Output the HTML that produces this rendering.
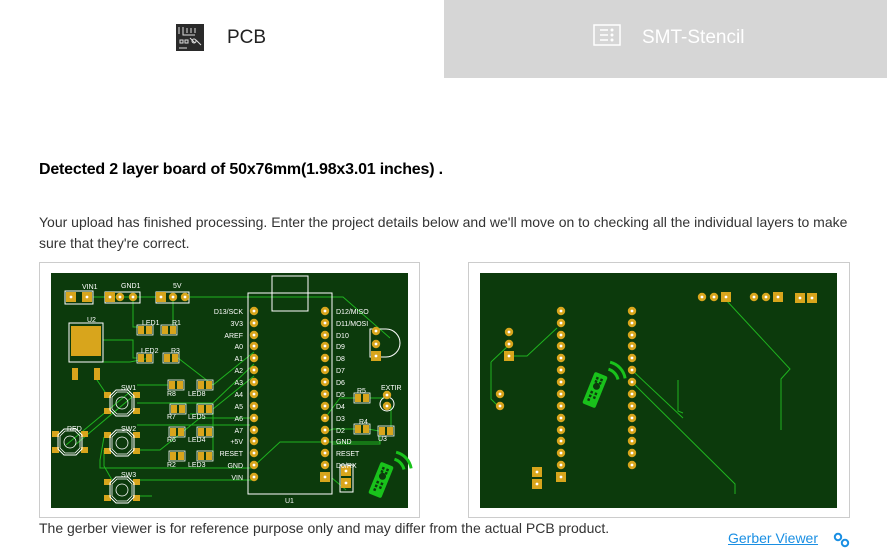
<!DOCTYPE html>
<html><head><meta charset="utf-8"><style>
html,body{margin:0;padding:0;background:#fff;}
body{width:887px;height:553px;position:relative;overflow:hidden;font-family:"Liberation Sans",Arial,sans-serif;color:#222;}
.tab2{position:absolute;left:444px;top:0;width:443px;height:78px;background:#d6d6d6;}
.t{position:absolute;white-space:nowrap;}
</style></head><body>
<div class="tab2"></div>
<div class="t" style="left:227px;top:27px;font-size:19px;color:#222;">PCB</div>
<div class="t" style="left:642px;top:27px;font-size:19px;color:#fff;">SMT-Stencil</div>
<div class="t" style="left:39px;top:161px;font-size:16px;font-weight:bold;color:#000;letter-spacing:-0.2px;">Detected 2 layer board of 50x76mm(1.98x3.01 inches) .</div>
<div class="t" style="left:39px;top:212px;font-size:14px;line-height:21px;color:#333;">Your upload has finished processing. Enter the project details below and we'll move on to checking all the individual layers to make<br>sure that they're correct.</div>
<div class="t" style="left:39px;top:520px;font-size:14px;color:#333;">The gerber viewer is for reference purpose only and may differ from the actual PCB product.</div>
<div class="t" style="left:728px;top:530px;font-size:14px;color:#1a8fe3;text-decoration:underline;">Gerber Viewer</div>
<svg width="887" height="553" style="position:absolute;left:0;top:0" viewBox="0 0 887 553">
<defs>
<g id="p"><circle r="4.2" fill="#d8a51c"/><circle r="1.4" fill="#fff"/></g>
<g id="sq"><rect x="-5" y="-5" width="10" height="10" fill="#d8a51c"/><circle r="1.4" fill="#fff"/></g>
<g id="sw"><rect x="-18" y="-11" width="7" height="6" fill="#d8a51c"/><rect x="11" y="-11" width="7" height="6" fill="#d8a51c"/><rect x="-18" y="5" width="7" height="6" fill="#d8a51c"/><rect x="11" y="5" width="7" height="6" fill="#d8a51c"/>
<polygon points="-6,-13 6,-13 12,-7 12,7 6,13 -6,13 -12,7 -12,-7" fill="none" stroke="#fff" stroke-width="1"/>
<polygon points="-5,-11 5,-11 10,-6 10,6 5,11 -5,11 -10,6 -10,-6" fill="none" stroke="#fff" stroke-width="0.8"/>
<circle r="6" fill="none" stroke="#fff" stroke-width="0.8"/></g>
<g id="rs"><rect x="-8" y="-5" width="16" height="10" fill="none" stroke="#fff" stroke-width="0.8"/><rect x="-7" y="-4" width="6" height="8" fill="#d8a51c"/><rect x="1" y="-4" width="6" height="8" fill="#d8a51c"/></g>
<g id="rem"><rect x="-7" y="-17" width="14" height="34" rx="2" fill="#19c21b"/>
<circle cy="-4" r="3.5" fill="#0c3a0c"/>
<rect x="-3.5" y="-13" width="2.5" height="2.5" fill="#0c3a0c"/><rect x="1" y="-13" width="2.5" height="2.5" fill="#0c3a0c"/>
<rect x="-3.5" y="-9.5" width="2.5" height="2.5" fill="#0c3a0c"/><rect x="1" y="-9.5" width="2.5" height="2.5" fill="#0c3a0c"/>
<rect x="-3.5" y="2" width="2.5" height="2.5" fill="#0c3a0c"/><rect x="1" y="2" width="2.5" height="2.5" fill="#0c3a0c"/>
<rect x="-3.5" y="6" width="2.5" height="2.5" fill="#0c3a0c"/><rect x="1" y="6" width="2.5" height="2.5" fill="#0c3a0c"/>
<rect x="-3.5" y="10" width="2.5" height="2.5" fill="#0c3a0c"/>
<g transform="rotate(25)"><path d="M-6,-24 A14,14 0 0 1 8,-24" fill="none" stroke="#19c21b" stroke-width="3"/>
<path d="M-10,-30 A20,20 0 0 1 12,-30" fill="none" stroke="#19c21b" stroke-width="3"/></g></g>
</defs>
<!-- tab icons -->
<rect x="176" y="24" width="28" height="27" fill="#2a2a2a"/>
<path d="M179,27v7M183,27v8h12M187,28v5M191,28v5M195,28v5M180,40h3v3h-3zM185,40h3v3h-3zM190,38l5,5M196,40l5,5M179,48h8" stroke="#ddd" stroke-width="1" fill="none"/>
<circle cx="194" cy="41" r="2" fill="none" stroke="#ddd"/>
<rect x="594" y="25" width="26" height="20" fill="none" stroke="#fff" stroke-width="1.5"/>
<path d="M600,30h8M600,35h8M600,40h8" stroke="#fff" stroke-width="1.5"/>
<circle cx="612" cy="30" r="1.5" fill="#fff"/><circle cx="612" cy="35" r="1.5" fill="#fff"/><circle cx="612" cy="40" r="1.5" fill="#fff"/>
<!-- link icon -->
<circle cx="838" cy="537" r="3.2" fill="none" stroke="#1a8fe3" stroke-width="2"/><circle cx="845" cy="543" r="3.2" fill="none" stroke="#1a8fe3" stroke-width="2"/>
<!-- frames -->
<rect x="39.5" y="262.5" width="380" height="255" fill="#fff" stroke="#ccc"/>
<rect x="468.5" y="262.5" width="381" height="255" fill="#fff" stroke="#ccc"/>
<rect x="51" y="273" width="357" height="235" fill="#0c3a0c"/>
<rect x="480" y="273" width="357" height="235" fill="#0c3a0c"/>
<!-- LEFT traces -->
<g stroke="#1fb31f" stroke-width="1" fill="none">
<path d="M93,297H156M185,297H343L390,338"/>
<path d="M133,297V327H139"/><path d="M173,297V330"/>
<path d="M103,340H133V358H137"/>
<path d="M75,362H130L150,358"/>
<path d="M97,370V380L107,395"/><path d="M178,358L213,385"/>
<path d="M137,385H168M213,385L254,352"/>
<path d="M137,403H213L254,364"/><path d="M213,409L254,376"/>
<path d="M137,425H250"/>
<path d="M213,409V456"/><path d="M190,414H213"/>
<path d="M137,450H160L200,418H254"/>
<path d="M104,437L100,460V468H254"/>
<path d="M66,445L130,392"/><path d="M75,445L138,392"/>
<path d="M104,450V466L112,480"/>
<path d="M137,480H254"/><path d="M137,496H152"/>
<path d="M254,466L280,442H325H380"/>
<path d="M325,418L340,398H355"/><path d="M325,432L333,429H355"/>
<path d="M370,398H387"/><path d="M391,406V431"/><path d="M368,429L379,431"/>
<path d="M332,444H380V431"/><path d="M332,478L346,490"/>
</g>
<!-- LEFT silk -->
<g stroke="#fff" stroke-width="1" fill="none">
<rect x="248" y="293" width="84" height="201"/><rect x="272" y="276" width="36" height="35"/>
<rect x="65" y="291" width="28" height="13"/><rect x="105" y="292" width="35" height="11"/><rect x="156" y="292" width="33" height="11"/>
<rect x="69" y="323" width="34" height="39"/>
<path d="M370,329H386A14,14 0 0 1 386,357H370Z"/>
<circle cx="387" cy="404" r="7"/>
<rect x="340" y="465" width="13" height="27"/>
</g>
<rect x="71" y="326" width="30" height="30" fill="#d8a51c"/>
<rect x="72" y="368" width="6" height="12" fill="#d8a51c"/><rect x="94" y="368" width="6" height="12" fill="#d8a51c"/>
<use href="#sq" x="71" y="297"/><use href="#sq" x="87" y="297"/>
<use href="#sq" x="110" y="297"/><use href="#p" x="120" y="297"/><use href="#p" x="133" y="297"/>
<use href="#sq" x="161" y="297"/><use href="#p" x="173" y="297"/><use href="#p" x="185" y="297"/>
<use href="#rs" x="145" y="330"/><use href="#rs" x="169" y="330"/>
<use href="#rs" x="145" y="358"/><use href="#rs" x="171" y="358"/>
<use href="#rs" x="176" y="385"/><use href="#rs" x="205" y="385"/>
<use href="#rs" x="178" y="409"/><use href="#rs" x="205" y="409"/>
<use href="#rs" x="177" y="432"/><use href="#rs" x="205" y="432"/>
<use href="#rs" x="177" y="456"/><use href="#rs" x="205" y="456"/>
<use href="#rs" x="362" y="398"/><use href="#rs" x="362" y="429"/><use href="#rs" x="386" y="431"/>
<use href="#sw" x="122" y="403"/><use href="#sw" x="122" y="443"/><use href="#sw" x="122" y="490"/><use href="#sw" x="70" y="442"/>
<use href="#p" x="376" y="331"/><use href="#p" x="376" y="344"/><use href="#sq" x="376" y="356"/>
<use href="#p" x="387" y="395"/><use href="#p" x="387" y="406"/>
<use href="#sq" x="346" y="471"/><use href="#sq" x="346" y="483"/>
<g id="hdr">
<use href="#p" x="254" y="311"/><use href="#p" x="254" y="323"/><use href="#p" x="254" y="335"/><use href="#p" x="254" y="346"/><use href="#p" x="254" y="358"/><use href="#p" x="254" y="370"/><use href="#p" x="254" y="382"/><use href="#p" x="254" y="394"/><use href="#p" x="254" y="406"/><use href="#p" x="254" y="418"/><use href="#p" x="254" y="430"/><use href="#p" x="254" y="441"/><use href="#p" x="254" y="453"/><use href="#p" x="254" y="465"/><use href="#p" x="254" y="477"/>
<use href="#p" x="325" y="311"/><use href="#p" x="325" y="323"/><use href="#p" x="325" y="335"/><use href="#p" x="325" y="346"/><use href="#p" x="325" y="358"/><use href="#p" x="325" y="370"/><use href="#p" x="325" y="382"/><use href="#p" x="325" y="394"/><use href="#p" x="325" y="406"/><use href="#p" x="325" y="418"/><use href="#p" x="325" y="430"/><use href="#p" x="325" y="441"/><use href="#p" x="325" y="453"/><use href="#p" x="325" y="465"/>
</g>
<use href="#sq" x="325" y="477"/>
<g fill="#fff" font-size="7" font-family="Liberation Sans,sans-serif">
<text x="82" y="289">VIN1</text><text x="121" y="288">GND1</text><text x="173" y="288">5V</text><text x="87" y="322">U2</text>
<text x="142" y="325">LED1</text><text x="172" y="325">R1</text><text x="141" y="353">LED2</text><text x="171" y="353">R3</text>
<text x="121" y="390">SW1</text><text x="167" y="396">R8</text><text x="188" y="396">LED8</text>
<text x="167" y="419">R7</text><text x="188" y="419">LED5</text><text x="167" y="442">R6</text><text x="188" y="442">LED4</text>
<text x="167" y="467">R2</text><text x="188" y="467">LED3</text><text x="121" y="431">SW2</text><text x="121" y="477">SW3</text><text x="67" y="431">RED</text>
<text x="357" y="393">R5</text><text x="381" y="390">EXTIR</text><text x="359" y="424">R4</text><text x="378" y="441">U3</text><text x="285" y="503">U1</text>
<g text-anchor="end"><text x="243" y="314">D13/SCK</text><text x="243" y="326">3V3</text><text x="243" y="338">AREF</text><text x="243" y="349">A0</text><text x="243" y="361">A1</text><text x="243" y="373">A2</text><text x="243" y="385">A3</text><text x="243" y="397">A4</text><text x="243" y="409">A5</text><text x="243" y="421">A6</text><text x="243" y="433">A7</text><text x="243" y="444">+5V</text><text x="243" y="456">RESET</text><text x="243" y="468">GND</text><text x="243" y="480">VIN</text></g>
<text x="336" y="314">D12/MISO</text><text x="336" y="326">D11/MOSI</text><text x="336" y="338">D10</text><text x="336" y="349">D9</text><text x="336" y="361">D8</text><text x="336" y="373">D7</text><text x="336" y="385">D6</text><text x="336" y="397">D5</text><text x="336" y="409">D4</text><text x="336" y="421">D3</text><text x="336" y="433">D2</text><text x="336" y="444">GND</text><text x="336" y="456">RESET</text><text x="336" y="468">D0/RX</text>
</g>
<use href="#rem" transform="translate(381,480) rotate(22)"/>
<!-- RIGHT -->
<g stroke="#1fb31f" stroke-width="1" fill="none">
<path d="M491,362V399L497,405M491,362L509,345M509,356H527L557,328"/>
<path d="M635,373L683,418M635,385L735,484V494"/>
<path d="M678,380V411L683,413"/>
<path d="M726,300L790,369L781,379V430"/>
</g>
<use href="#p" x="509" y="332"/><use href="#p" x="509" y="344"/><use href="#sq" x="509" y="356"/>
<use href="#p" x="500" y="394"/><use href="#p" x="500" y="406"/>
<use href="#sq" x="537" y="472"/><use href="#sq" x="537" y="484"/>
<use href="#p" x="702" y="297"/><use href="#p" x="714" y="297"/><use href="#sq" x="726" y="297"/>
<use href="#p" x="754" y="297"/><use href="#p" x="766" y="297"/><use href="#sq" x="778" y="297"/>
<use href="#sq" x="800" y="298"/><use href="#sq" x="812" y="298"/>
<use href="#hdr" x="307" y="0"/>
<use href="#sq" x="561" y="477"/>
<use href="#rem" transform="translate(595,390) rotate(22)"/>
</svg>
</body></html>
